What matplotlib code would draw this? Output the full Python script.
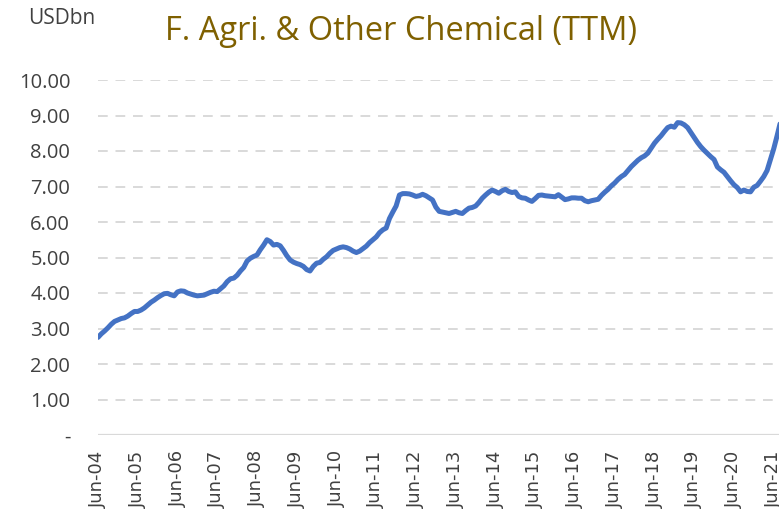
import matplotlib
matplotlib.use("Agg")
import matplotlib.pyplot as plt
import numpy as np

# Monthly TTM values (USD bn), starting Jun-04
vals_2004 = [2.75, 2.85, 2.93, 3.02, 3.12, 3.20, 3.24, 3.28, 3.30, 3.35, 3.42, 3.48]
vals_2005 = [3.48, 3.52, 3.58, 3.66, 3.74, 3.80, 3.87, 3.93, 3.98, 3.99, 3.95, 3.92]
vals_2006 = [4.03, 4.06, 4.05, 4.00, 3.97, 3.94, 3.92, 3.93, 3.94, 3.98, 4.02, 4.05]
vals_2007 = [4.04, 4.12, 4.20, 4.32, 4.40, 4.42, 4.50, 4.62, 4.72, 4.90, 4.98, 5.03]
vals_2008 = [5.07, 5.22, 5.35, 5.50, 5.45, 5.35, 5.37, 5.33, 5.20, 5.05, 4.93, 4.87]
vals_2009 = [4.83, 4.80, 4.75, 4.66, 4.62, 4.75, 4.84, 4.86, 4.95, 5.02, 5.12, 5.20]
vals_2010 = [5.24, 5.28, 5.30, 5.28, 5.24, 5.18, 5.14, 5.18, 5.25, 5.32, 5.42, 5.50]
vals_2011 = [5.58, 5.70, 5.78, 5.83, 6.10, 6.28, 6.45, 6.76, 6.80, 6.80, 6.79, 6.76]
vals_2012 = [6.72, 6.74, 6.78, 6.74, 6.68, 6.62, 6.42, 6.30, 6.28, 6.26, 6.24, 6.27]
vals_2013 = [6.30, 6.26, 6.24, 6.32, 6.39, 6.41, 6.45, 6.55, 6.67, 6.76, 6.84, 6.90]
vals_2014 = [6.86, 6.81, 6.88, 6.92, 6.86, 6.83, 6.85, 6.72, 6.68, 6.67, 6.62, 6.58]
vals_2015 = [6.66, 6.75, 6.76, 6.74, 6.73, 6.72, 6.71, 6.77, 6.70, 6.63, 6.65, 6.68]
vals_2016 = [6.68, 6.67, 6.67, 6.60, 6.57, 6.60, 6.62, 6.64, 6.75, 6.84, 6.92, 7.02]
vals_2017 = [7.10, 7.20, 7.28, 7.34, 7.45, 7.56, 7.65, 7.74, 7.81, 7.86, 7.94, 8.08]
vals_2018 = [8.22, 8.33, 8.43, 8.55, 8.66, 8.70, 8.67, 8.80, 8.79, 8.74, 8.66, 8.52]
vals_2019 = [8.38, 8.24, 8.12, 8.02, 7.93, 7.84, 7.76, 7.55, 7.47, 7.40, 7.28, 7.16]
vals_2020 = [7.05, 6.97, 6.85, 6.90, 6.86, 6.85, 6.98, 7.03, 7.15, 7.28, 7.45, 7.75]
vals_2021 = [8.06, 8.42, 8.80]

values = (vals_2004 + vals_2005 + vals_2006 + vals_2007 + vals_2008 + vals_2009 +
          vals_2010 + vals_2011 + vals_2012 + vals_2013 + vals_2014 + vals_2015 +
          vals_2016 + vals_2017 + vals_2018 + vals_2019 + vals_2020 + vals_2021)

tick_labels = ["Jun-04", "Jun-05", "Jun-06", "Jun-07", "Jun-08", "Jun-09",
               "Jun-10", "Jun-11", "Jun-12", "Jun-13", "Jun-14", "Jun-15",
               "Jun-16", "Jun-17", "Jun-18", "Jun-19", "Jun-20", "Jun-21"]
y_ticks = [0, 1, 2, 3, 4, 5, 6, 7, 8, 9, 10]
y_tick_labels = ["-"] + [f"{v:.2f}" for v in y_ticks[1:]]

W, H = 779, 521
fig = plt.figure(figsize=(W / 100, H / 100), dpi=100)
left, right, bottom, top = 98 / W, 1.0, 1 - 435 / H, 1 - 80 / H
ax = fig.add_axes([left, bottom, right - left, top - bottom])

x = np.arange(len(values))
ax.plot(x, values, color="#4472C4", lw=3.6, solid_capstyle="round",
        solid_joinstyle="round", zorder=3, clip_on=True)

ax.set_xlim(0, 205.6)
ax.set_ylim(0, 10)

ax.set_yticks(y_ticks)
ax.set_yticklabels(y_tick_labels)
for v in y_ticks[1:]:
    ax.axhline(v, color="#d9d9d9", lw=1.4, ls=(0, (5, 4)), zorder=1)
ax.axhline(0, color="#d9d9d9", lw=1.6, zorder=2)

ax.set_xticks(np.arange(len(tick_labels)) * 12)
ax.set_xticklabels(tick_labels, rotation=90, va="top", ha="center")

for s in ax.spines.values():
    s.set_visible(False)
ax.tick_params(axis="both", length=0, colors="#404040")
ax.tick_params(axis="y", pad=20, labelsize=14.5)
ax.tick_params(axis="x", pad=11, labelsize=13)
for lab in ax.get_yticklabels():
    lab.set_family("Open Sans")
for lab in ax.get_xticklabels():
    lab.set_family("DejaVu Sans")

fig.text(62 / W, 1 - 19 / H, "USDbn", ha="center", va="center",
         fontsize=15, color="#404040", family="Open Sans")
fig.text(401 / W, 1 - 31 / H, "F. Agri. & Other Chemical (TTM)", ha="center",
         va="center", fontsize=23.5, color="#7F6000", family="Open Sans")

fig.savefig("out.png", dpi=100)
